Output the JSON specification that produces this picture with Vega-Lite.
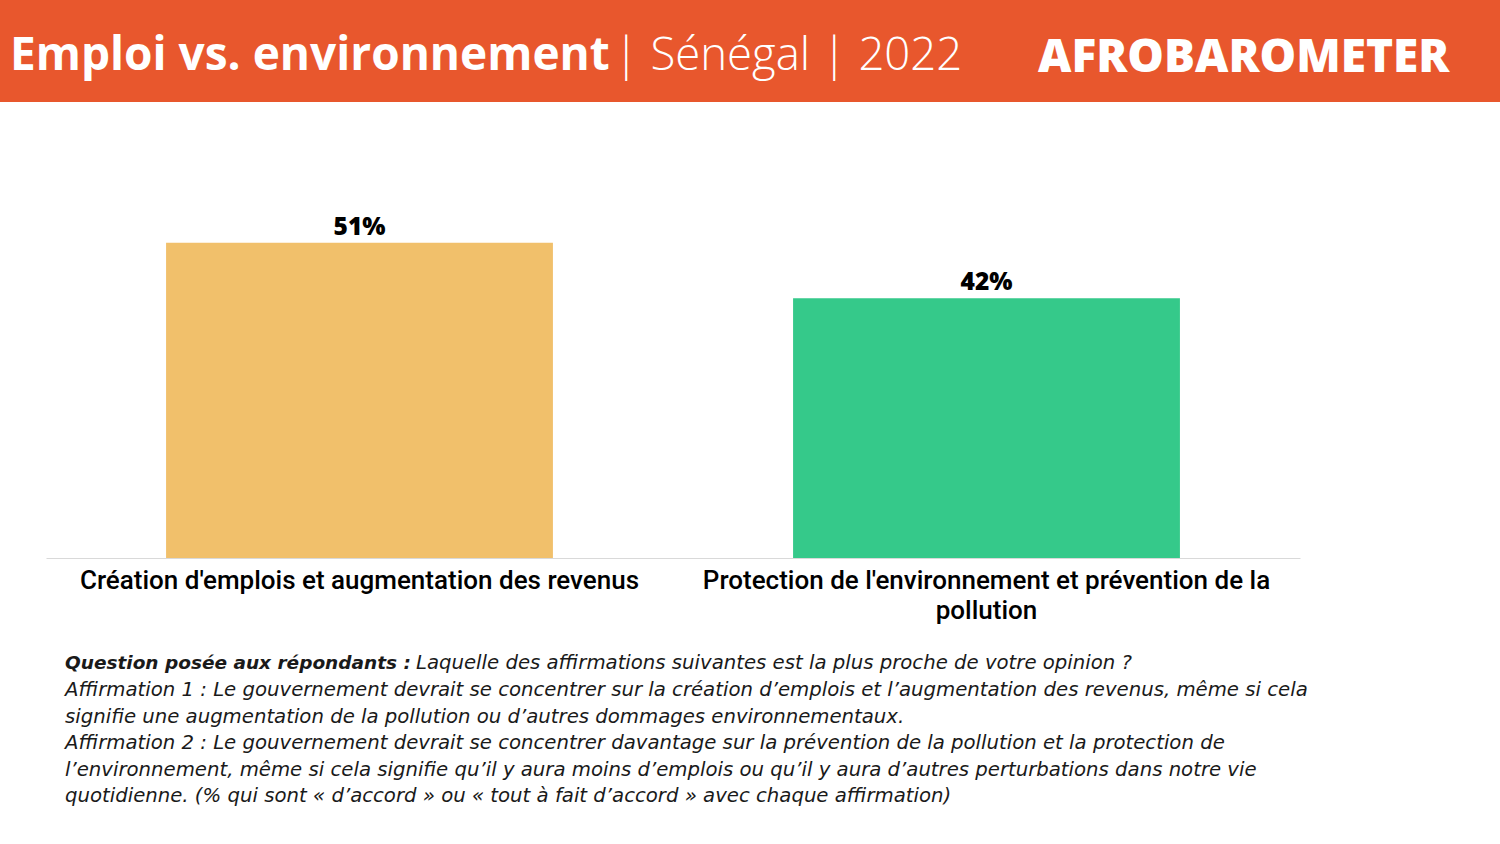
{
  "$schema": "https://vega.github.io/schema/vega-lite/v6.json",
  "padding": 0,
  "background": "white",
  "spacing": 85,
  "config": {"view": {"stroke": null}},
  "datasets": {
    "barres": [
      {"categorie": "Création d'emplois et augmentation des revenus", "pct": 0.51},
      {"categorie": "Protection de l'environnement et prévention de la pollution", "pct": 0.42}
    ]
  },
  "vconcat": [
    {
      "width": 1500,
      "height": 102,
      "view": {"fill": "#E8572D", "stroke": null},
      "data": {"values": [{}]},
      "layer": [
        {
          "mark": {"type": "text", "text": "Emploi vs. environnement", "align": "left", "baseline": "alphabetic", "font": "Open Sans", "fontWeight": 700, "fontSize": 46, "color": "#FFFFFF"},
          "encoding": {"x": {"value": 10}, "y": {"value": 70}}
        },
        {
          "mark": {"type": "text", "text": "| Sénégal | 2022", "align": "left", "baseline": "alphabetic", "font": "Open Sans", "fontWeight": 300, "fontSize": 45.5, "color": "#FFFFFF"},
          "encoding": {"x": {"value": 614}, "y": {"value": 70}}
        },
        {
          "mark": {"type": "text", "text": "AFROBAROMETER", "align": "left", "baseline": "alphabetic", "font": "Open Sans", "fontWeight": 800, "fontSize": 46, "color": "#FFFFFF"},
          "encoding": {"x": {"value": 1038}, "y": {"value": 72}}
        }
      ]
    },
    {
      "width": 1300,
      "height": 371,
      "layer": [
        {
          "data": {"name": "barres"},
          "mark": {"type": "bar"},
          "encoding": {
            "x": {
              "field": "categorie", "type": "nominal", "sort": null,
              "scale": {"range": [46, 1300], "paddingInner": 0.383, "paddingOuter": 0.1915},
              "axis": {
                "title": null, "ticks": false, "domainColor": "#D9D9D9", "domainWidth": 1,
                "labelAngle": 0, "labelFont": "Roboto", "labelFontSize": 26, "labelFontWeight": 500,
                "labelColor": "#000000", "labelPadding": 9.5, "labelLineHeight": 30, "labelLimit": 0,
                "labelExpr": "indexof(datum.label, 'pollution') >= 0 ? [\"Protection de l'environnement et prévention de la\", \"pollution\"] : datum.label"
              }
            },
            "y": {
              "field": "pct", "type": "quantitative",
              "scale": {"domain": [0, 0.6]},
              "axis": null
            },
            "color": {"field": "categorie", "type": "nominal", "sort": null, "scale": {"range": ["#F1C06B", "#35C98A"]}, "legend": null}
          }
        },
        {
          "data": {"name": "barres"},
          "mark": {"type": "text", "baseline": "alphabetic", "dy": -8, "font": "Open Sans", "fontWeight": 800, "fontSize": 24.5, "color": "#000000"},
          "encoding": {
            "x": {"field": "categorie", "type": "nominal", "sort": null},
            "y": {"field": "pct", "type": "quantitative"},
            "text": {"field": "pct", "type": "quantitative", "format": ".0%"}
          }
        },
        {
          "data": {"values": [{}]},
          "mark": {"type": "text", "text": "Question posée aux répondants :", "align": "left", "baseline": "alphabetic", "font": "DejaVu Sans", "fontStyle": "italic", "fontWeight": 700, "fontSize": 18.5, "color": "#1A1A1A"},
          "encoding": {"x": {"value": 65}, "y": {"value": 482}}
        },
        {
          "data": {"values": [{}]},
          "mark": {"type": "text", "text": "Laquelle des affirmations suivantes est la plus proche de votre opinion ?", "align": "left", "baseline": "alphabetic", "font": "DejaVu Sans", "fontStyle": "italic", "fontWeight": 400, "fontSize": 19.7, "color": "#1A1A1A"},
          "encoding": {"x": {"value": 416}, "y": {"value": 482}}
        },
        {
          "data": {"values": [{}]},
          "mark": {
            "type": "text",
            "text": [
              "Affirmation 1 : Le gouvernement devrait se concentrer sur la création d’emplois et l’augmentation des revenus, même si cela",
              "signifie une augmentation de la pollution ou d’autres dommages environnementaux.",
              "Affirmation 2 : Le gouvernement devrait se concentrer davantage sur la prévention de la pollution et la protection de",
              "l’environnement, même si cela signifie qu’il y aura moins d’emplois ou qu’il y aura d’autres perturbations dans notre vie",
              "quotidienne. (% qui sont « d’accord » ou « tout à fait d’accord » avec chaque affirmation)"
            ],
            "align": "left", "baseline": "alphabetic", "lineHeight": 26.6,
            "font": "DejaVu Sans", "fontStyle": "italic", "fontWeight": 400, "fontSize": 19.7, "color": "#1A1A1A"
          },
          "encoding": {"x": {"value": 65}, "y": {"value": 509}}
        }
      ]
    }
  ]
}
